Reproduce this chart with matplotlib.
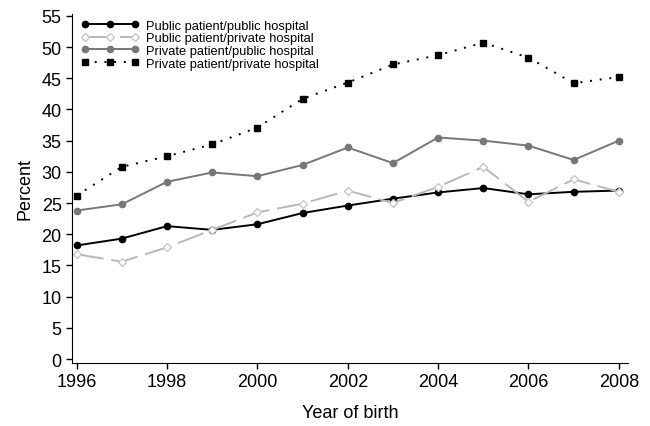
import matplotlib.pyplot as plt

plt.rcParams['font.family'] = ['Liberation Sans', 'DejaVu Sans']

years = list(range(1996, 2009))
pub_pub = [18.2, 19.3, 21.3, 20.7, 21.6, 23.4, 24.6, 25.7, 26.7, 27.4, 26.4, 26.8, 27.0]
pub_priv = [16.8, 15.6, 17.9, 20.7, 23.5, 24.9, 27.0, 25.0, 27.6, 30.8, 25.2, 28.8, 26.8]
priv_pub = [23.8, 24.8, 28.4, 29.9, 29.3, 31.1, 33.9, 31.4, 35.5, 35.0, 34.2, 31.9, 35.0]
priv_priv = [26.2, 30.8, 32.5, 34.4, 37.1, 41.7, 44.3, 47.2, 48.7, 50.7, 48.3, 44.2, 45.2]

fig = plt.figure(figsize=(6.5, 4.27), dpi=100)
ax = fig.add_axes([0.111, 0.148, 0.855, 0.817])

ax.plot(years, pub_pub, color='black', lw=1.4, marker='o', ms=4.5,
        label='Public patient/public hospital')
ax.plot(years, pub_priv, color='#b8b8b8', lw=1.4, dashes=(14, 4), marker='D', ms=4,
        mfc='white', mec='#c8c8c8', label='Public patient/private hospital')
ax.plot(years, priv_pub, color='#777777', lw=1.4, marker='o', ms=4.5,
        mfc='#777777', mec='#777777', label='Private patient/public hospital')
ax.plot(years, priv_priv, color='black', lw=1.4, ls=(0, (1, 4)), marker='s', ms=4.5,
        label='Private patient/private hospital')

ax.set_xlim(1995.9, 2008.2)
ax.set_ylim(-0.6, 55.3)
ax.set_xticks(range(1996, 2009, 2))
ax.set_yticks(range(0, 56, 5))
ax.spines['top'].set_visible(False)
ax.spines['right'].set_visible(False)
ax.tick_params(labelsize=13, length=4, width=1)
ax.set_xlabel('Year of birth', fontsize=13, labelpad=10)
ax.set_ylabel('Percent', fontsize=13, labelpad=6)

ax.legend(loc='upper left', bbox_to_anchor=(0.0, 1.01), frameon=False, fontsize=9.3,
          numpoints=3, handlelength=4.5, labelspacing=0.05, handletextpad=0.5,
          borderaxespad=0.3)

fig.savefig('out.png', dpi=100)
